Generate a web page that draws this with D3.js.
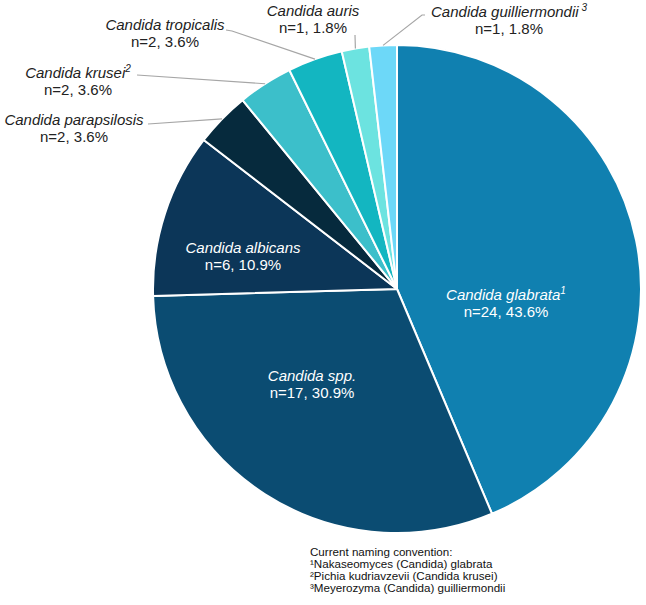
<!DOCTYPE html>
<html>
<head>
<meta charset="utf-8">
<script src="https://cdn.jsdelivr.net/npm/d3@7"></script>
<style>
  body { margin: 0; background: #fff; }
  text { font-family: "Liberation Sans", Arial, sans-serif; }
</style>
</head>
<body>
<div id="pie"></div>
<script>
// species, counts, shares (clockwise from 12 o'clock)
const species = ["Candida glabrata", "Candida spp.", "Candida albicans", "Candida parapsilosis",
                 "Candida krusei", "Candida tropicalis", "Candida auris", "Candida guilliermondii"];
const counts = [24, 17, 6, 2, 2, 2, 1, 1];
const percents = ["43.6%", "30.9%", "10.9%", "3.6%", "3.6%", "3.6%", "1.8%", "1.8%"];
const footnoteMarks = ["1", "", "", "", "2", "", "", " 3"];
const footnotes = ["Current naming convention:",
                   "\u00b9Nakaseomyces (Candida) glabrata",
                   "\u00b2Pichia kudriavzevii (Candida krusei)",
                   "\u00b3Meyerozyma (Candida) guilliermondii"];

const colors = ["#1080b0", "#0b4c72", "#0c3658", "#062a3d", "#3cbfca", "#13b6c1", "#6ce3e0", "#6dd8f8"];

// label layout: x = centre of the text block, y = first baseline; inside labels are white
const labelPos = [
  {x: 506, y: 300, inside: true},
  {x: 312, y: 381, inside: true},
  {x: 243, y: 253, inside: true},
  {x: 74, y: 125, start: [148, 124]},
  {x: 78, y: 78, start: [137, 75]},
  {x: 165, y: 30, start: [226, 30], knee: [232, 31]},
  {x: 313, y: 16, start: [355, 35]},
  {x: 509, y: 17, start: [425, 15], knee: [422, 15]}
];

const width = 646, height = 605;
const cx = 397, cy = 289, radius = 244;

const svg = d3.select("#pie").append("svg")
    .attr("width", width)
    .attr("height", height);

const pie = d3.pie().sort(null).value(d => d);
const arcs = pie(counts);
const arc = d3.arc().innerRadius(0).outerRadius(radius);

const g = svg.append("g").attr("transform", "translate(" + cx + "," + cy + ")");

g.selectAll("path")
    .data(arcs)
    .enter().append("path")
    .attr("d", arc)
    .attr("fill", (d, i) => colors[i])
    .attr("stroke", "#fff")
    .attr("stroke-width", 2)
    .attr("stroke-linejoin", "round");

// leader lines for the small slices
arcs.forEach(function(d, i) {
    const p = labelPos[i];
    if (p.inside) return;
    const mid = (d.startAngle + d.endAngle) / 2;
    const end = [cx + radius * Math.sin(mid), cy - radius * Math.cos(mid)];
    const pts = [p.start];
    if (p.knee) pts.push(p.knee);
    pts.push(end);
    svg.append("path")
        .attr("d", d3.line()(pts))
        .attr("fill", "none")
        .attr("stroke", "#a6a6a6")
        .attr("stroke-width", 1.2);
});

// labels
arcs.forEach(function(d, i) {
    const p = labelPos[i];
    const fill = p.inside ? "#fff" : "#222";
    const t = svg.append("text")
        .attr("x", p.x)
        .attr("y", p.y)
        .attr("text-anchor", "middle")
        .attr("font-size", "15px")
        .attr("fill", fill);
    t.append("tspan")
        .attr("font-style", "italic")
        .text(species[i]);
    if (footnoteMarks[i]) {
        t.append("tspan")
            .attr("font-style", "italic")
            .attr("font-size", "10px")
            .attr("dy", -6)
            .text(footnoteMarks[i]);
    }
    svg.append("text")
        .attr("x", p.x)
        .attr("y", p.y + 17)
        .attr("text-anchor", "middle")
        .attr("font-size", "15px")
        .attr("fill", fill)
        .text("n=" + d.data + ", " + percents[i]);
});

// footnote
svg.append("g")
    .selectAll("text")
    .data(footnotes)
    .enter().append("text")
    .attr("x", 310)
    .attr("y", (d, i) => 556 + i * 12)
    .attr("font-size", "11.6px")
    .attr("fill", "#111")
    .text(d => d);
</script>
</body>
</html>
